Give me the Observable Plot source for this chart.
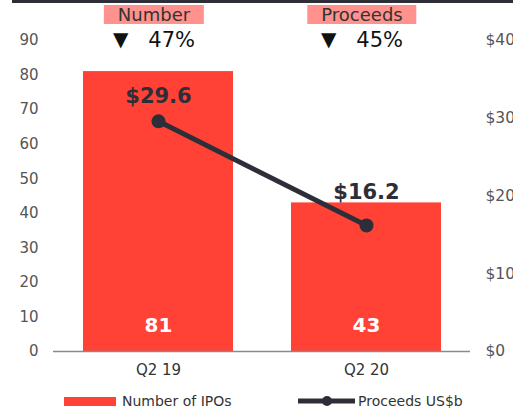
<!DOCTYPE html>
<html>
<head>
<meta charset="utf-8">
<script src="https://cdn.jsdelivr.net/npm/d3@7"></script>
<script src="https://cdn.jsdelivr.net/npm/@observablehq/plot@0.6"></script>
<style>
  body { margin: 0; background: #fff; font-family: "DejaVu Sans", sans-serif; }
  #wrap { position: relative; width: 513px; height: 415px; overflow: hidden; }
  #topbar { position: absolute; left: 12px; top: 0; width: 501px; height: 3px; background: #2e2e38; }
  .hdr { position: absolute; top: 5px; transform: translateX(-50%); background: #ff928c; color: #333;
         font-size: 18px; line-height: 19px; padding: 0 14px; white-space: nowrap; }
  .chg { position: absolute; top: 28px; transform: translateX(-50%); color: #111; font-size: 21px; white-space: nowrap; line-height: 24px; }
  .chg .tri { font-size: 20px; margin-right: 20px; position: relative; top: -1px; }
  #legend { position: absolute; left: 64px; top: 393px; display: flex; align-items: center; font-size: 14px; color: #333; }
  .item { display: flex; align-items: center; }
  .sw { width: 52px; height: 9px; background: #ff4136; margin-right: 6px; }
</style>
</head>
<body>
<div id="wrap"><div id="topbar"></div></div>
<script>
const categories = ["Q2 19", "Q2 20"];
const ipoCounts = [81, 43];
const proceeds = [29.6, 16.2];
const proceedsLabels = ["$29.6", "$16.2"];
const headerLabels = ["Number", "Proceeds"];
const changeLabels = ["47%", "45%"];
const leftTicks = [0, 10, 20, 30, 40, 50, 60, 70, 80, 90];
const rightTicks = [0, 10, 20, 30, 40];
const countMax = 90, proceedsMax = 40;
const k = countMax / proceedsMax;

const RED = "#ff4136", DARK = "#2e2e38";

const data = categories.map((c, i) => ({
  cat: c, count: ipoCounts[i], proc: proceeds[i] * k, procLabel: proceedsLabels[i]
}));

const plot = Plot.plot({
  width: 513,
  height: 415,
  marginTop: 40,
  marginBottom: 64,
  marginLeft: 53,
  marginRight: 43,
  style: { fontFamily: "DejaVu Sans, sans-serif", background: "transparent", overflow: "visible" },
  x: { domain: categories, paddingInner: 0.28, paddingOuter: 0.14 },
  y: { domain: [0, countMax] },
  marks: [
    Plot.barY(data, { x: "cat", y: "count", fill: RED }),
    Plot.ruleY([0], { stroke: "#8a8a8a", strokeWidth: 1.5 }),
    Plot.axisY({ ticks: leftTicks, tickSize: 0, tickPadding: 15, fontSize: 15, color: "#555", label: null }),
    Plot.axisY({ anchor: "right", ticks: rightTicks.map(v => v * k), tickFormat: v => "$" + Math.round(v / k),
                 tickSize: 0, tickPadding: 15, fontSize: 15.5, color: "#555", label: null }),
    Plot.axisX({ tickSize: 0, tickPadding: 13, fontSize: 15, color: "#333", label: null }),
    Plot.text(data, { x: "cat", y: 0, text: d => String(d.count), dy: -26, fill: "#fff",
                      fontSize: 20, fontWeight: "bold" }),
    Plot.line(data, { x: "cat", y: "proc", stroke: DARK, strokeWidth: 5 }),
    Plot.dot(data, { x: "cat", y: "proc", r: 7, fill: DARK }),
    Plot.text(data.slice(0, 1), { x: "cat", y: "proc", text: "procLabel", dy: -25, fill: DARK,
                      fontSize: 21, fontWeight: "bold" }),
    Plot.text(data.slice(1), { x: "cat", y: "proc", text: "procLabel", dy: -33, fill: DARK,
                      fontSize: 21, fontWeight: "bold" })
  ]
});

const wrap = document.getElementById("wrap");
wrap.appendChild(plot);

const xs = plot.scale("x");
categories.forEach((c, i) => {
  const cx = xs.apply(c) + xs.bandwidth / 2 - 4;
  const h = document.createElement("div");
  h.className = "hdr"; h.style.left = cx + "px"; h.textContent = headerLabels[i];
  wrap.appendChild(h);
  const g = document.createElement("div");
  g.className = "chg"; g.style.left = cx + "px";
  g.innerHTML = '<span class="tri">▼</span>' + changeLabels[i];
  wrap.appendChild(g);
});

const legend = document.createElement("div");
legend.id = "legend";
legend.innerHTML =
  '<div class="item" style="width:234px"><div class="sw"></div><span>Number of IPOs</span></div>' +
  '<div class="item"><svg width="60" height="14"><line x1="0" y1="7" x2="57" y2="7" stroke="' + DARK + '" stroke-width="5"/><circle cx="29" cy="7" r="5" fill="' + DARK + '"/></svg><span>Proceeds US$b</span></div>';
wrap.appendChild(legend);
</script>
</body>
</html>
